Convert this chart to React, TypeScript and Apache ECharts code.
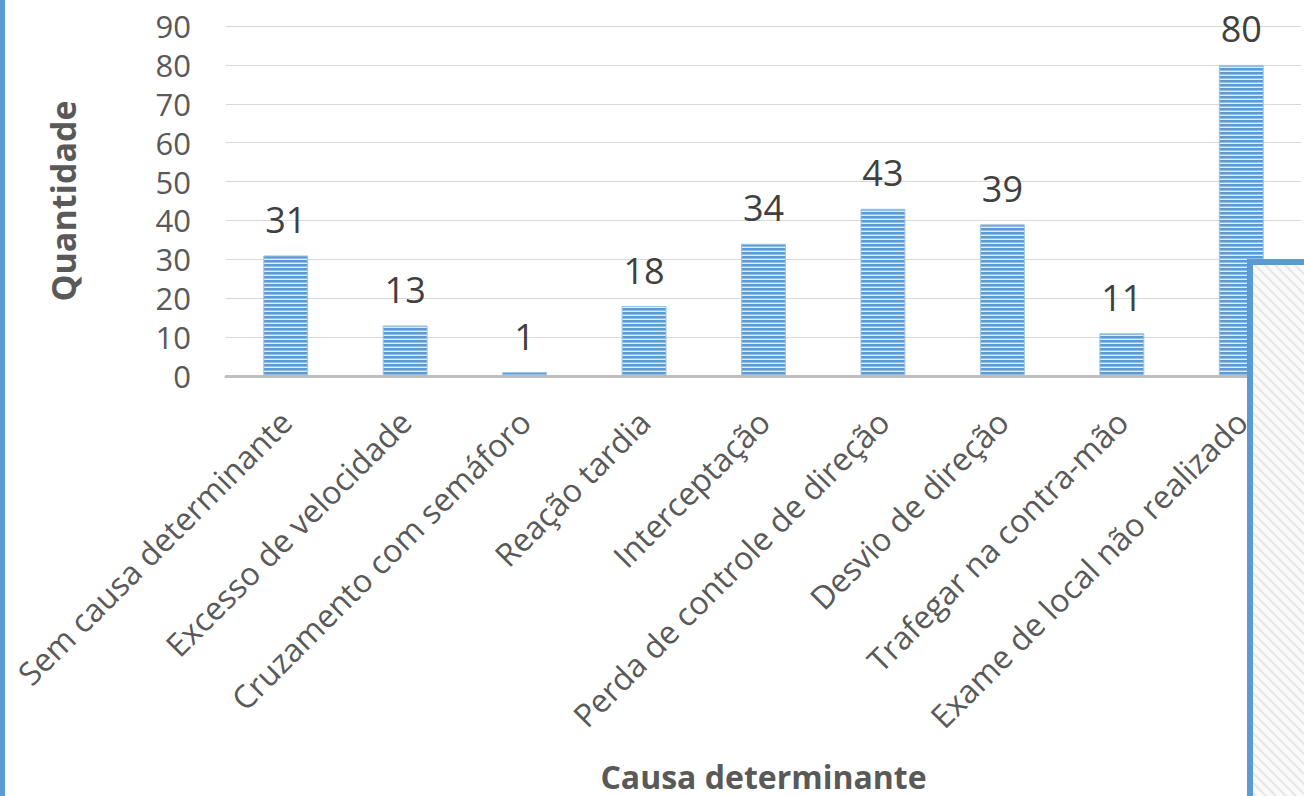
import React, { useEffect, useRef } from "react";
import * as echarts from "echarts";

const categories = [
  "Sem causa determinante",
  "Excesso de velocidade",
  "Cruzamento com semáforo",
  "Reação tardia",
  "Interceptação",
  "Perda de controle de direção",
  "Desvio de direção",
  "Trafegar na contra-mão",
  "Exame de local não realizado",
];
const values = [31, 13, 1, 18, 34, 43, 39, 11, 80];
const yTicks = { min: 0, max: 90, interval: 10 };
const xName = "Causa determinante";
const yName = "Quantidade";

function stripeCanvas(): HTMLCanvasElement {
  const c = document.createElement("canvas");
  c.width = 4;
  c.height = 4;
  const ctx = c.getContext("2d")!;
  ctx.fillStyle = "#5B9BD5";
  ctx.fillRect(0, 0, 4, 2);
  ctx.fillStyle = "#92BCE4";
  ctx.fillRect(0, 2, 4, 1);
  ctx.fillStyle = "#E2EDF8";
  ctx.fillRect(0, 3, 4, 1);
  return c;
}

function hatchCanvas(): HTMLCanvasElement {
  const c = document.createElement("canvas");
  c.width = 10;
  c.height = 10;
  const ctx = c.getContext("2d")!;
  ctx.fillStyle = "#FAFAFA";
  ctx.fillRect(0, 0, 10, 10);
  ctx.strokeStyle = "#E6E6E6";
  ctx.lineWidth = 2;
  ctx.beginPath();
  ctx.moveTo(-2, -2);
  ctx.lineTo(12, 12);
  ctx.moveTo(-2, 8);
  ctx.lineTo(2, 12);
  ctx.moveTo(8, -2);
  ctx.lineTo(12, 2);
  ctx.stroke();
  return c;
}

export default function App() {
  const ref = useRef<HTMLDivElement>(null);
  useEffect(() => {
    if (!ref.current) return;
    const chart = echarts.init(ref.current, undefined, { renderer: "svg" });
    const font = "'Open Sans', 'Noto Sans', sans-serif";
    chart.setOption({
      animation: false,
      backgroundColor: "#FFFFFF",
      textStyle: { fontFamily: font },
      grid: { left: 226, right: 3, top: 26, bottom: 420, containLabel: false },
      xAxis: {
        type: "category",
        data: categories,
        name: xName,
        nameLocation: "middle",
        nameGap: 384,
        nameTextStyle: { fontSize: 32, fontWeight: "bold", color: "#595959", fontFamily: font },
        axisLine: { show: true, lineStyle: { color: "#BFBFBF", width: 3 } },
        axisTick: { show: false },
        axisLabel: {
          rotate: 45,
          interval: 0,
          fontSize: 32,
          color: "#595959",
          margin: 40,
          fontFamily: font,
        },
      },
      yAxis: {
        type: "value",
        min: yTicks.min,
        max: yTicks.max,
        interval: yTicks.interval,
        name: yName,
        nameLocation: "middle",
        nameGap: 146,
        nameTextStyle: { fontSize: 34, fontWeight: "bold", color: "#595959", fontFamily: font },
        axisLine: { show: false },
        axisTick: { show: false },
        axisLabel: { fontSize: 31, color: "#595959", margin: 35, fontFamily: font },
        splitLine: { lineStyle: { color: "#D9D9D9", width: 1 } },
      },
      series: [
        {
          type: "bar",
          data: values,
          barWidth: "37.6%",
          itemStyle: {
            color: { image: stripeCanvas(), repeat: "repeat" },
            borderColor: "#9DC3E6",
            borderWidth: 1,
          },
          label: {
            show: true,
            position: "top",
            distance: 18,
            fontSize: 36,
            color: "#404040",
            fontFamily: font,
          },
        },
      ],
      graphic: [
        {
          type: "rect",
          shape: { x: 0, y: 0, width: 5, height: 796 },
          style: { fill: "#5B9BD5" },
          z: 100,
        },
        {
          type: "rect",
          shape: { x: 1250, y: 262, width: 80, height: 560 },
          style: {
            fill: { image: hatchCanvas(), repeat: "repeat" } as any,
            stroke: "#5B9BD5",
            lineWidth: 6,
          },
          z: 100,
        },
      ],
    });
    return () => chart.dispose();
  }, []);
  return (
    <div
      ref={ref}
      style={{ position: "fixed", left: 0, top: 0, width: 1304, height: 796 }}
    />
  );
}
